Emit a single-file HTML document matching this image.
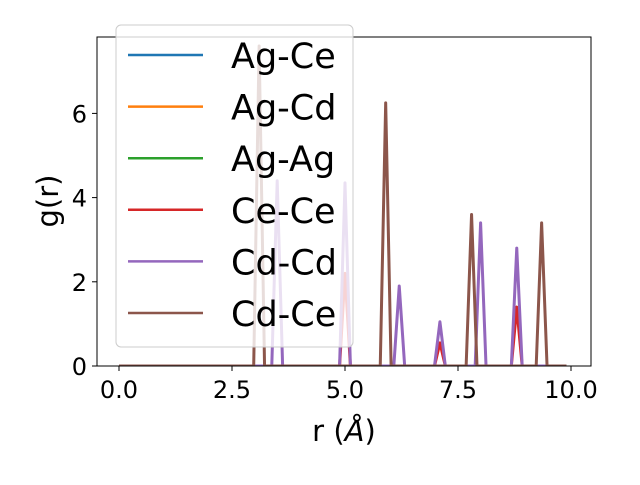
<!DOCTYPE html>
<html><head><meta charset="utf-8"><style>
body{margin:0;background:#fff}
svg text{font-family:"DejaVu Sans","Liberation Sans",sans-serif}
</style></head><body>
<svg id="c" width="640" height="480" xmlns="http://www.w3.org/2000/svg"></svg>
<script>
const seriesNames = ["Ag-Ce","Ag-Cd","Ag-Ag","Ce-Ce","Cd-Cd","Cd-Ce"];
const seriesColors = ["#1f77b4","#ff7f0e","#2ca02c","#d62728","#9467bd","#8c564b"];
const peakPos = [[],[],[],[5.0,7.1,8.8],[3.5,5.0,6.2,7.1,8.0,8.8],[3.1,5.9,7.8,9.35]];
const peakVal = [[],[],[],[2.2,0.55,1.4],[4.4,4.35,1.9,1.05,3.4,2.8],[7.6,6.25,3.6,3.4]];
const xTicks = [0,2.5,5,7.5,10];
const xTickLabels = ["0.0","2.5","5.0","7.5","10.0"];
const yTicks = [0,2,4,6];
const yTickLabels = ["0","2","4","6"];
const X0=97,X1=591,Y0=37,Y1=366;
const sx=v=>119+v*45.2, sy=v=>366-v*42.1;
const NS="http://www.w3.org/2000/svg", svg=document.getElementById('c');
function mk(t,a,p){const e=document.createElementNS(NS,t);for(const k in a)e.setAttribute(k,a[k]);(p||svg).appendChild(e);return e;}
const defs=mk('defs',{});const cp=mk('clipPath',{id:'clip'},defs);mk('rect',{x:X0,y:Y0,width:X1-X0,height:Y1-Y0},cp);
const g=mk('g',{'clip-path':'url(#clip)'});
seriesNames.forEach((n,i)=>{
  let pts=[[0,0]];
  peakPos[i].forEach((p,j)=>{pts.push([p-0.12,0],[p,peakVal[i][j]],[p+0.12,0]);});
  pts.push([9.9,0]);
  const pl=mk('polyline',{points:pts.map(q=>sx(q[0])+','+sy(q[1])).join(' '),fill:'none',stroke:seriesColors[i],'stroke-width':3,'stroke-linejoin':'round'},g);
  
  
});
const ax=mk('rect',{x:X0,y:Y0,width:X1-X0,height:Y1-Y0,fill:'none',stroke:'#000','stroke-width':1});

xTicks.forEach((v,i)=>{mk('line',{x1:sx(v),x2:sx(v),y1:Y1,y2:Y1+5,stroke:'#000'});
  const t=mk('text',{x:sx(v),y:Y1+32,'font-size':24,'text-anchor':'middle'});t.textContent=xTickLabels[i];
  });
yTicks.forEach((v,i)=>{mk('line',{x1:X0-5,x2:X0,y1:sy(v),y2:sy(v),stroke:'#000'});
  const t=mk('text',{x:X0-10,y:sy(v)+9,'font-size':24,'text-anchor':'end'});t.textContent=yTickLabels[i];
  });
const lg=mk('g',{});
mk('rect',{x:116,y:25,width:237,height:322,rx:5,fill:'#fff','fill-opacity':0.8,stroke:'#ccc'},lg);
seriesNames.forEach((n,i)=>{const y=55+i*51.6;
  mk('line',{x1:128,x2:203,y1:y,y2:y,stroke:seriesColors[i],'stroke-width':2.5},lg);
  const t=mk('text',{x:231,y:y+13,'font-size':35},lg);t.textContent=n;
  });
</script>
<svg style="position:absolute;left:0;top:0" width="640" height="480" xmlns="http://www.w3.org/2000/svg">
<text x="344" y="441" font-size="29" text-anchor="middle" font-family="DejaVu Sans, Liberation Sans, sans-serif">r (<tspan font-style="italic">Å</tspan>)</text>
<text transform="translate(58,201) rotate(-90)" font-size="29" text-anchor="middle" font-family="DejaVu Sans, Liberation Sans, sans-serif">g(r)</text>
</svg>
</body></html>
